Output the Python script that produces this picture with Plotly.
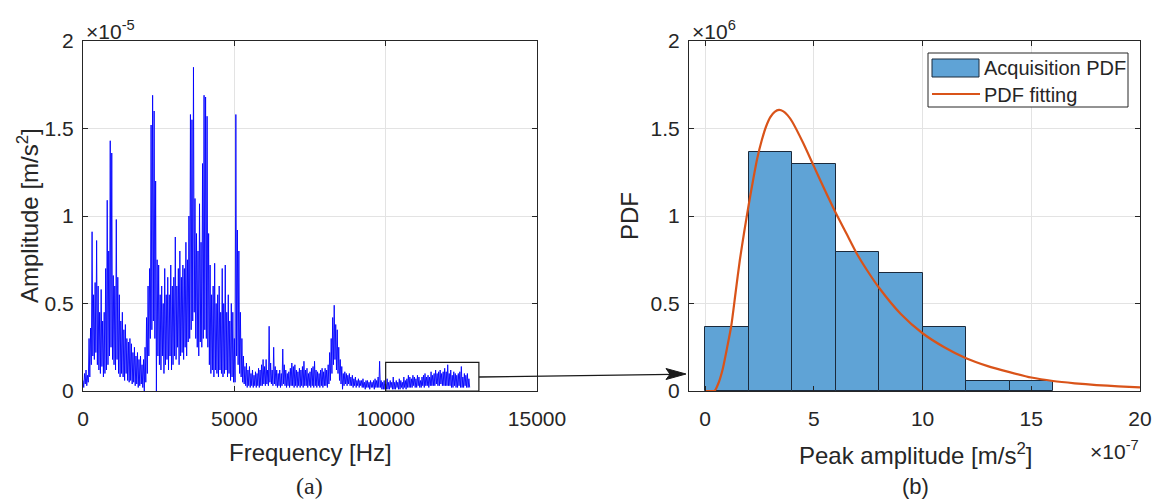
import numpy as np
import plotly.graph_objects as go

# ---------------- (a) amplitude spectrum, 50 Hz bands ----------------
FREQ_STEP_HZ = 50
AMP_UNIT = 1e-5  # amplitudes below are in units of 1e-5 m/s^2

# local maximum in each 50 Hz band (0 .. 12750 Hz)
SPEC_PEAK = [
    # 0 - 1000 Hz
    0.06, 0.10, 0.12, 0.09, 0.30, 0.36, 0.91, 0.55, 0.62, 0.86,
    0.60, 0.45, 0.58, 0.40, 0.45, 0.70, 1.09, 0.80, 1.43, 1.36,
    # 1000 - 2000 Hz
    0.66, 0.60, 0.98, 0.65, 0.55, 0.40, 0.45, 0.35, 0.38, 0.30,
    0.28, 0.30, 0.27, 0.22, 0.25, 0.20, 0.22, 0.18, 0.20, 0.15,
    # 2000 - 3000 Hz
    0.18, 0.25, 0.42, 0.60, 0.70, 1.52, 1.69, 1.60, 1.20, 0.75,
    0.72, 0.55, 0.60, 0.50, 0.70, 0.55, 0.65, 0.55, 0.72, 0.60,
    # 3000 - 4000 Hz
    0.65, 0.88, 0.60, 0.70, 0.80, 0.65, 0.72, 0.70, 0.85, 0.75,
    1.00, 1.58, 1.55, 1.85, 1.10, 0.90, 0.80, 1.07, 0.85, 1.30,
    # 4000 - 5000 Hz
    1.69, 1.68, 1.57, 0.90, 0.72, 0.55, 0.60, 0.73, 0.50, 0.55,
    0.60, 0.45, 0.70, 0.50, 0.72, 0.45, 0.55, 0.40, 0.50, 0.45,
    # 5000 - 6000 Hz
    0.30, 1.58, 0.92, 0.80, 0.45, 0.30, 0.20, 0.14, 0.16, 0.12,
    0.14, 0.10, 0.12, 0.09, 0.11, 0.10, 0.13, 0.12, 0.15, 0.18,
    # 6000 - 7000 Hz
    0.14, 0.18, 0.12, 0.37, 0.16, 0.12, 0.25, 0.14, 0.12, 0.10,
    0.12, 0.10, 0.24, 0.15, 0.12, 0.10, 0.11, 0.13, 0.16, 0.14,
    # 7000 - 8000 Hz
    0.15, 0.12, 0.11, 0.13, 0.12, 0.14, 0.17, 0.12, 0.13, 0.10,
    0.11, 0.13, 0.14, 0.17, 0.12, 0.11, 0.10, 0.12, 0.13, 0.11,
    # 8000 - 9000 Hz
    0.13, 0.12, 0.15, 0.22, 0.30, 0.42, 0.49, 0.38, 0.35, 0.25,
    0.18, 0.14, 0.10, 0.11, 0.10, 0.09, 0.10, 0.08, 0.09, 0.07,
    # 9000 - 10000 Hz
    0.08, 0.06, 0.07, 0.06, 0.06, 0.07, 0.05, 0.06, 0.06, 0.05,
    0.06, 0.05, 0.06, 0.07, 0.06, 0.08, 0.17, 0.06, 0.05, 0.06,
    # 10000 - 11000 Hz
    0.04, 0.07, 0.05, 0.06, 0.05, 0.08, 0.05, 0.06, 0.05, 0.07,
    0.06, 0.05, 0.08, 0.06, 0.07, 0.09, 0.08, 0.07, 0.09, 0.08,
    # 11000 - 12000 Hz
    0.07, 0.09, 0.08, 0.06, 0.08, 0.09, 0.10, 0.08, 0.09, 0.08,
    0.11, 0.09, 0.10, 0.12, 0.10, 0.11, 0.12, 0.10, 0.11, 0.13,
    # 12000 - 12750 Hz
    0.11, 0.15, 0.10, 0.12, 0.09, 0.11, 0.10, 0.09, 0.10, 0.11,
    0.14, 0.08, 0.10, 0.09, 0.10, 0.07,
]
# local minimum in each 50 Hz band
SPEC_FLOOR = [
    0.02, 0.04, 0.03, 0.05, 0.08, 0.15, 0.20, 0.18, 0.22, 0.15,
    0.12, 0.10, 0.14, 0.08, 0.10, 0.12, 0.15, 0.20, 0.25, 0.18,
    0.15, 0.12, 0.18, 0.10, 0.08, 0.10, 0.08, 0.06, 0.10, 0.06,
    0.05, 0.06, 0.04, 0.05, 0.03, 0.04, 0.02, 0.03, 0.04, 0.02,
    0.00, 0.05, 0.10, 0.20, 0.30, 0.35, 0.40, 0.30, 0.00, 0.20,
    0.15, 0.12, 0.20, 0.10, 0.15, 0.18, 0.12, 0.20, 0.12, 0.15,
    0.20, 0.18, 0.25, 0.15, 0.20, 0.22, 0.18, 0.25, 0.20, 0.28,
    0.30, 0.35, 0.40, 0.45, 0.30, 0.25, 0.20, 0.28, 0.25, 0.30,
    0.35, 0.30, 0.25, 0.15, 0.10, 0.12, 0.08, 0.12, 0.10, 0.08,
    0.12, 0.10, 0.08, 0.10, 0.12, 0.08, 0.10, 0.06, 0.08, 0.05,
    0.05, 0.20, 0.15, 0.10, 0.08, 0.05, 0.04, 0.03, 0.02, 0.03,
    0.02, 0.03, 0.02, 0.03, 0.02, 0.03, 0.02, 0.03, 0.03, 0.04,
    0.03, 0.04, 0.03, 0.05, 0.04, 0.03, 0.04, 0.03, 0.02, 0.03,
    0.02, 0.03, 0.04, 0.03, 0.02, 0.03, 0.02, 0.03, 0.03, 0.02,
    0.03, 0.02, 0.03, 0.02, 0.03, 0.02, 0.03, 0.03, 0.02, 0.03,
    0.02, 0.03, 0.02, 0.03, 0.02, 0.03, 0.02, 0.03, 0.02, 0.03,
    0.03, 0.02, 0.04, 0.06, 0.10, 0.15, 0.18, 0.12, 0.10, 0.06,
    0.04, 0.01, 0.03, 0.04, 0.03, 0.04, 0.03, 0.03, 0.02, 0.03,
    0.02, 0.03, 0.02, 0.03, 0.02, 0.02, 0.01, 0.02, 0.02, 0.01,
    0.02, 0.02, 0.01, 0.02, 0.02, 0.02, 0.02, 0.01, 0.01, 0.01,
    0.01, 0.01, 0.01, 0.02, 0.01, 0.01, 0.01, 0.02, 0.01, 0.01,
    0.02, 0.01, 0.02, 0.01, 0.02, 0.02, 0.02, 0.02, 0.03, 0.02,
    0.02, 0.03, 0.02, 0.02, 0.03, 0.02, 0.03, 0.03, 0.02, 0.03,
    0.03, 0.03, 0.03, 0.04, 0.03, 0.03, 0.04, 0.03, 0.03, 0.03,
    0.03, 0.03, 0.03, 0.02, 0.02, 0.03, 0.02, 0.02, 0.03, 0.02,
    0.02, 0.02, 0.03, 0.02, 0.02, 0.02,
]

# zoom window drawn on the spectrum (Hz, amplitude in 1e-5 units)
ZOOM_BOX_F = [10000, 13080]
ZOOM_BOX_A = [0.0, 0.164]

# ---------------- (b) peak-amplitude histogram ----------------
PEAK_UNIT = 1e-7  # peak amplitudes in units of 1e-7 m/s^2
PDF_UNIT = 1e6
BIN_EDGES = [0, 2, 4, 6, 8, 10, 12, 14, 16]
BIN_PDF = [0.367, 1.364, 1.295, 0.796, 0.676, 0.367, 0.059, 0.059]

FIT_X = [0.0, 0.25, 0.43, 0.6, 0.8, 1.0, 1.2, 1.4, 1.6, 1.8, 2.0, 2.2, 2.4,
         2.6, 2.8, 3.0, 3.2, 3.4, 3.6, 3.8, 4.0, 4.5, 5.0, 5.5, 6.0, 6.5,
         7.0, 7.5, 8.0, 9.0, 10.0, 11.0, 12.0, 13.0, 14.0, 15.0, 16.0, 17.0,
         18.0, 19.0, 20.0]
FIT_PDF = [0.0, 0.0, 0.0, 0.04, 0.12, 0.24, 0.37, 0.56, 0.75, 0.91, 1.06, 1.20,
           1.33, 1.43, 1.51, 1.565, 1.595, 1.606, 1.598, 1.575, 1.54, 1.42,
           1.285, 1.15, 1.02, 0.90, 0.78, 0.68, 0.59, 0.44, 0.33, 0.25, 0.187,
           0.142, 0.108, 0.077, 0.057, 0.044, 0.034, 0.027, 0.021]

X_TICKS_A = [0, 5000, 10000, 15000]
Y_TICKS = [0, 0.5, 1, 1.5, 2]
X_TICKS_B = [0, 5, 10, 15, 20]

# ---------------- styling ----------------
W, H = 1157, 500
FONT = "Liberation Sans"
TXT = "#262626"
AX = "#262626"
GRID = "#e3e3e3"
BLUE = "#0000ff"
BAR_FILL = "#5fa3d6"
BAR_EDGE = "#1b2a3c"
ORANGE = "#d95319"


def px_x(p):
    return p / W


def px_y(p):
    return 1 - p / H


dom_a = [px_x(83), px_x(537)]
dom_b = [px_x(689), px_x(1140)]
dom_y = [px_y(391), px_y(41)]

# spectrum polyline: band max at band start, band min half a step later
freq = np.arange(len(SPEC_PEAK)) * FREQ_STEP_HZ
spec_f = np.empty(2 * len(freq))
spec_a = np.empty(2 * len(freq))
spec_f[0::2] = freq
spec_f[1::2] = freq + FREQ_STEP_HZ / 2
spec_a[0::2] = np.array(SPEC_PEAK) * AMP_UNIT
spec_a[1::2] = np.array(SPEC_FLOOR) * AMP_UNIT

edges = np.array(BIN_EDGES, dtype=float) * PEAK_UNIT
centres = (edges[:-1] + edges[1:]) / 2
widths = np.diff(edges)

fig = go.Figure()

fig.add_trace(go.Scatter(
    x=spec_f, y=spec_a, mode="lines",
    line=dict(color=BLUE, width=0.9),
    xaxis="x", yaxis="y", showlegend=False, hoverinfo="skip",
))

fig.add_trace(go.Bar(
    x=centres, y=np.array(BIN_PDF) * PDF_UNIT, width=widths,
    marker=dict(color=BAR_FILL, line=dict(color=BAR_EDGE, width=1)),
    xaxis="x2", yaxis="y2", name="Acquisition PDF", showlegend=False,
))

fig.add_trace(go.Scatter(
    x=np.array(FIT_X) * PEAK_UNIT, y=np.array(FIT_PDF) * PDF_UNIT, mode="lines",
    line=dict(color=ORANGE, width=2.2, shape="spline", smoothing=0.6),
    xaxis="x2", yaxis="y2", name="PDF fitting", showlegend=False,
))

axis_common = dict(
    showline=True, linecolor=AX, linewidth=1, mirror="ticks",
    ticks="inside", ticklen=5, tickcolor=AX,
    showgrid=True, gridcolor=GRID, gridwidth=1, zeroline=False,
    tickfont=dict(family=FONT, size=21, color=TXT), automargin=False,
)

fig.update_layout(
    width=W, height=H,
    margin=dict(l=0, r=0, t=0, b=0),
    paper_bgcolor="white", plot_bgcolor="white",
    bargap=0,
    xaxis=dict(domain=dom_a, range=[0, 15000], tickvals=X_TICKS_A,
               ticktext=[str(v) for v in X_TICKS_A], anchor="y",
               ticklabelstandoff=9, **axis_common),
    yaxis=dict(domain=dom_y, range=[0, 2 * AMP_UNIT],
               tickvals=[v * AMP_UNIT for v in Y_TICKS],
               ticktext=[f"{v:g}" for v in Y_TICKS], anchor="x",
               ticklabelstandoff=4, **axis_common),
    xaxis2=dict(domain=dom_b, range=[-0.74 * PEAK_UNIT, 20 * PEAK_UNIT],
                tickvals=[v * PEAK_UNIT for v in X_TICKS_B],
                ticktext=[str(v) for v in X_TICKS_B], anchor="y2",
                ticklabelstandoff=9, **axis_common),
    yaxis2=dict(domain=dom_y, range=[0, 2 * PDF_UNIT],
                tickvals=[v * PDF_UNIT for v in Y_TICKS],
                ticktext=[f"{v:g}" for v in Y_TICKS], anchor="x2",
                ticklabelstandoff=4, **axis_common),
)

# zoom window on the spectrum
fig.add_shape(type="rect", xref="x", yref="y",
              x0=ZOOM_BOX_F[0], x1=ZOOM_BOX_F[1],
              y0=ZOOM_BOX_A[0] * AMP_UNIT, y1=ZOOM_BOX_A[1] * AMP_UNIT,
              line=dict(color="#1a1a1a", width=1.2))

# arrow linking the window to the histogram: shaft and filled head
fig.add_shape(type="line", xref="paper", yref="paper",
              x0=px_x(479), y0=px_y(377), x1=px_x(672), y1=px_y(374.3),
              line=dict(color="#1a1a1a", width=1.3))
head = "M {:.5f} {:.5f} L {:.5f} {:.5f} L {:.5f} {:.5f} L {:.5f} {:.5f} Z".format(
    px_x(686), px_y(374), px_x(666), px_y(368.5), px_x(670), px_y(374.2),
    px_x(666), px_y(379.5))
fig.add_shape(type="path", xref="paper", yref="paper", path=head,
              fillcolor="#1a1a1a", line=dict(color="#1a1a1a", width=1))

# legend box drawn by hand (wide swatches)
fig.add_shape(type="rect", xref="paper", yref="paper",
              x0=px_x(928), x1=px_x(1128), y0=px_y(107), y1=px_y(53),
              line=dict(color="#262626", width=1), fillcolor="white")
fig.add_shape(type="rect", xref="paper", yref="paper",
              x0=px_x(932), x1=px_x(979), y0=px_y(77), y1=px_y(59),
              line=dict(color=BAR_EDGE, width=1), fillcolor=BAR_FILL)
fig.add_shape(type="line", xref="paper", yref="paper",
              x0=px_x(932), x1=px_x(980), y0=px_y(94), y1=px_y(94),
              line=dict(color=ORANGE, width=2.2))


def text(x, y, s, size, xanchor="center", yanchor="middle", family=FONT, angle=0):
    fig.add_annotation(x=px_x(x), y=px_y(y), xref="paper", yref="paper",
                       text=s, showarrow=False, xanchor=xanchor, yanchor=yanchor,
                       textangle=angle,
                       font=dict(family=family, size=size, color=TXT))


text(982, 68, "Acquisition PDF", 20, xanchor="left")
text(982, 95, "PDF fitting", 20, xanchor="left")

# axis titles
text(310, 452, "Frequency [Hz]", 24)
text(28, 216, "Amplitude [m/s<sup>2</sup>]", 24, angle=-90)
text(915, 454, "Peak amplitude [m/s<sup>2</sup>]", 24)
text(630, 216, "PDF", 24, angle=-90)

# exponent labels
text(84, 30, "×10<sup>-5</sup>", 21, xanchor="left")
text(690, 30, "×10<sup>6</sup>", 21, xanchor="left")
text(1141, 450, "×10<sup>-7</sup>", 21, xanchor="right")

# panel captions
text(309, 486, "(a)", 24, family="Liberation Serif")
text(915, 486, "(b)", 22)

fig.write_html("out.html")
